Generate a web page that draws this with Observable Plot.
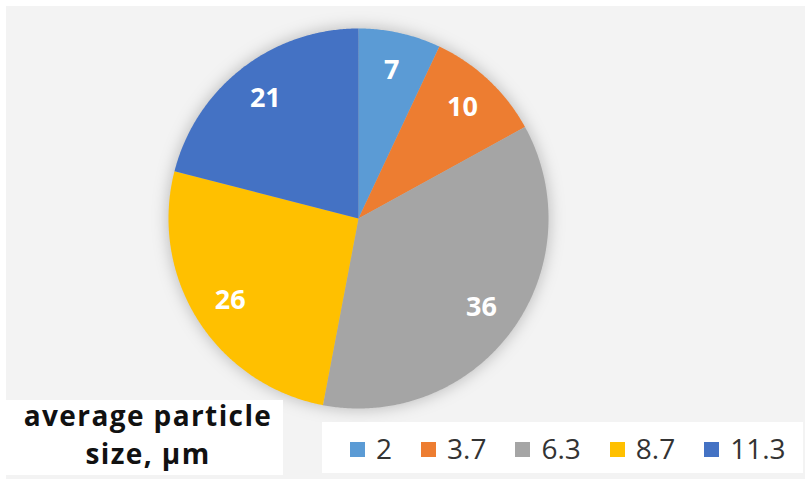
<!DOCTYPE html>
<html>
<head>
<meta charset="utf-8">
<script src="https://cdn.jsdelivr.net/npm/d3@7"></script>
<script src="https://cdn.jsdelivr.net/npm/@observablehq/plot@0.6"></script>
<style>
  html, body { margin: 0; padding: 0; background: #ffffff; }
  #wrap { position: relative; width: 805px; height: 479px; overflow: hidden; background: #ffffff; }
  #panel { position: absolute; left: 6px; top: 6px; right: 0; bottom: 0; background: #f3f3f3; }
  #chart { position: absolute; left: 0; top: 0; }
  #chart svg { background: transparent; display: block; }
  #titlebox { position: absolute; left: 5px; top: 400px; width: 278px; height: 75px; background: #ffffff; }
  #titletext { position: relative; top: -4px; left: 4px;
    font-family: "Open Sans", Lato, sans-serif; font-weight: 700; font-size: 28px; line-height: 38px;
    letter-spacing: 1.4px; color: #111; text-align: center; }
  #legend { position: absolute; left: 322px; top: 422px; width: 481px; height: 51px; background: #ffffff;
    display: flex; align-items: center; padding-left: 28px; box-sizing: border-box;
    font-family: "Open Sans", Lato, sans-serif; font-size: 28px; color: #333; }
  .item { display: flex; align-items: center; margin-right: 29px; }
  .sw { width: 15px; height: 15px; margin-right: 11px; margin-top: 4px; }
</style>
</head>
<body>
<div id="wrap">
  <div id="panel"></div>
  <div id="chart"></div>
  <div id="titlebox"><div id="titletext">average particle<br>size, µm</div></div>
  <div id="legend"></div>
</div>
<script>
const sizes = ["2", "3.7", "6.3", "8.7", "11.3"];
const shares = [7, 10, 36, 26, 21];
const colors = ["#5b9bd5", "#ed7d31", "#a5a5a5", "#ffc000", "#4472c4"];

const total = d3.sum(shares);
const slices = [];
const labels = [];
let acc = 0;
sizes.forEach((s, i) => {
  const a0 = acc / total * 2 * Math.PI;
  acc += shares[i];
  const a1 = acc / total * 2 * Math.PI;
  slices.push({size: s, x: 0, y: 0});
  const n = Math.max(2, Math.ceil((a1 - a0) / (Math.PI / 360)));
  for (let k = 0; k <= n; k++) {
    const a = a0 + (a1 - a0) * k / n;
    slices.push({size: s, x: Math.sin(a), y: Math.cos(a)});
  }
  slices.push({size: s, x: 0, y: 0});
  const am = (a0 + a1) / 2;
  labels.push({size: s, value: shares[i], x: 0.8 * Math.sin(am), y: 0.8 * Math.cos(am)});
});

const W = 805, H = 479, cx = 358, cy = 218, R = 190;

const chart = Plot.plot({
  width: W,
  height: H,
  margin: 0,
  x: {domain: [-cx / R, (W - cx) / R], axis: null},
  y: {domain: [-(H - cy) / R, cy / R], axis: null},
  color: {domain: sizes, range: colors},
  style: {background: "transparent"},
  marks: [
    Plot.line(slices, {x: "x", y: "y", z: "size", fill: "size", stroke: null, curve: "linear",
      imageFilter: "drop-shadow(0px 0px 8px rgba(0,0,0,0.25))"}),
    Plot.text(labels, {x: "x", y: "y", text: d => String(d.value), fill: "white",
      fontSize: 27, fontWeight: "bold", fontFamily: "'Open Sans', Lato, sans-serif"})
  ]
});
document.getElementById("chart").appendChild(chart);

const legend = document.getElementById("legend");
sizes.forEach((s, i) => {
  const item = document.createElement("div");
  item.className = "item";
  const sw = document.createElement("div");
  sw.className = "sw";
  sw.style.background = colors[i];
  const t = document.createElement("span");
  t.textContent = s;
  item.appendChild(sw);
  item.appendChild(t);
  legend.appendChild(item);
});
</script>
</body>
</html>
